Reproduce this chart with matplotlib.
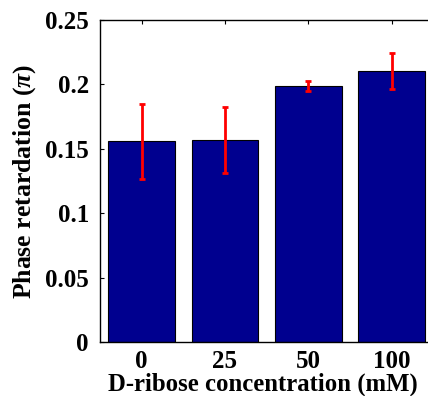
import numpy as np
import matplotlib
matplotlib.use('Agg')
import matplotlib.pyplot as plt

plt.rcParams['font.family'] = ['Liberation Serif', 'DejaVu Serif']
plt.rcParams['font.weight'] = 'bold'
plt.rcParams['mathtext.fontset'] = 'custom'
plt.rcParams['mathtext.it'] = 'Liberation Serif:italic:bold'
plt.rcParams['mathtext.rm'] = 'Liberation Serif:bold'

# data
labels = ['0', '25', '50', '100']
values = [0.1558, 0.1568, 0.1990, 0.2107]
errors = [0.0290, 0.0256, 0.0040, 0.0140]
yticks = [0, 0.05, 0.1, 0.15, 0.2, 0.25]
ytick_labels = ['0', '0.05', '0.1', '0.15', '0.2', '0.25']

fig = plt.figure(figsize=(4.28, 3.96), dpi=100)
ax = fig.add_axes([100/428, 54/396, 333.3/428, 322/396])

x = np.arange(1, len(values) + 1)
ax.bar(x, values, width=0.8, color='#00008F', edgecolor='black', linewidth=0.8, zorder=2)
ax.errorbar(x, values, yerr=errors, fmt='none', ecolor='#FF0000', elinewidth=2,
            capsize=2.5, capthick=2, zorder=3)

ax.set_xlim(0.5, 4.5)
ax.set_ylim(0, 0.25)
ax.set_xticks(x)
ax.set_xticklabels(labels)
ax.set_yticks(yticks)
ax.set_yticklabels(ytick_labels)
ax.tick_params(direction='in', top=True, right=True, length=3, width=0.8,
               labelsize=18)
ax.tick_params(axis='y', pad=8)
ax.tick_params(axis='x', pad=6)
for s in ax.spines.values():
    s.set_linewidth(1.0)

# label centred on the visible part so it stays inside the picture
ax.set_xlabel('D-ribose concentration (mM)', fontsize=17.8, fontweight='bold')
ax.xaxis.set_label_coords(0.49, -0.096)
ax.set_ylabel(r'Phase retardation ($\pi$)', fontsize=18.5, fontweight='bold', labelpad=5)

fig.savefig('out.png', dpi=100)
